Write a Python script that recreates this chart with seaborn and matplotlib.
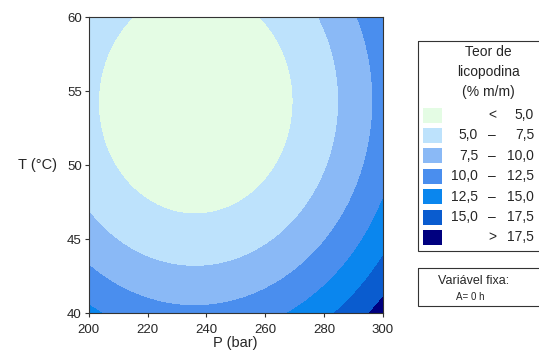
import matplotlib
matplotlib.use("Agg")
import matplotlib.pyplot as plt
import seaborn as sns
import numpy as np
from matplotlib.patches import Rectangle

# quadratic response surface for lycopodine content, coded factors
# x = (P - 250) / 50, y = (T - 50) / 10 ; A fixed at 0 h
# coefficients estimated from the contour lines of the picture
b0, bP, bT = 3.90, 2.71, -3.25
bPP, bTT, bPT = 4.94, 3.78, -0.05

p_range = [200, 300]
t_range = [40, 60]
p_ticks = [200, 220, 240, 260, 280, 300]
t_ticks = [40, 45, 50, 55, 60]

levels = [5.0, 7.5, 10.0, 12.5, 15.0, 17.5]
colors = ["#e4fce4", "#bde2fc", "#8ab9f6", "#4a8eee", "#0a86ee", "#0a5ccf", "#00007f"]
left_lbl = ["", "5,0", "7,5", "10,0", "12,5", "15,0", ""]
mid_lbl = ["<", "\u2013", "\u2013", "\u2013", "\u2013", "\u2013", ">"]
right_lbl = ["5,0", "7,5", "10,0", "12,5", "15,0", "17,5", "17,5"]
legend_title = ["Teor de", "licopodina", "(% m/m)"]

sns.set_style("white")
plt.rcParams["font.family"] = ["Liberation Sans", "DejaVu Sans"]

pg = np.linspace(p_range[0], p_range[1], 300)
tg = np.linspace(t_range[0], t_range[1], 300)
PP, TT = np.meshgrid(pg, tg)
xx = (PP - 250) / 50
yy = (TT - 50) / 10
Z = b0 + bP * xx + bT * yy + bPP * xx**2 + bTT * yy**2 + bPT * xx * yy

fig = plt.figure(figsize=(5.39, 3.54), dpi=100)
ax = fig.add_axes([0.1646, 0.115, 0.5455, 0.836])
ax.contourf(PP, TT, Z, levels=[-100] + levels + [100], colors=colors)
ax.set_xlim(*p_range)
ax.set_ylim(*t_range)
ax.set_xticks(p_ticks)
ax.set_yticks(t_ticks)
ax.tick_params(direction="out", length=3, width=0.8, labelsize=9.5, pad=2,
               bottom=True, left=True, color="#333333")
ax.tick_params(axis="x", pad=5)
for s in ax.spines.values():
    s.set_linewidth(0.8)
    s.set_color("#333333")
ax.set_xlabel("P (bar)", fontsize=10.5, labelpad=0)
ax.set_ylabel("T (\u00b0C)", fontsize=10.5, rotation=0, labelpad=21, va="center")

# legend boxes, drawn in pixel coordinates of the figure
W, H = 539.0, 354.0
lg = fig.add_axes([0, 0, 1, 1], facecolor="none")
lg.set_xlim(0, W)
lg.set_ylim(H, 0)
lg.axis("off")
lg.add_patch(Rectangle((417.7, 40.7), 125, 210.5, fill=False, lw=0.8, ec="#333333"))
for i, t in enumerate(legend_title):
    lg.text(488, 52 + i * 20, t, ha="center", va="center", fontsize=10)
for i, c in enumerate(colors):
    yc = 115 + i * 20.4
    lg.add_patch(Rectangle((423, yc - 7.5), 19, 15, fc=c, ec="none"))
    lg.text(478, yc, left_lbl[i], ha="right", va="center", fontsize=10)
    lg.text(492, yc, mid_lbl[i], ha="center", va="center", fontsize=10)
    lg.text(534, yc, right_lbl[i], ha="right", va="center", fontsize=10)

lg.add_patch(Rectangle((417.7, 267.7), 125, 38, fill=False, lw=0.8, ec="#333333"))
lg.text(474, 281.5, "Vari\u00e1vel fixa:", ha="center", va="center", fontsize=9)
lg.text(470, 296.5, "A= 0 h", ha="center", va="center", fontsize=7)

fig.savefig("out.png", dpi=100)
